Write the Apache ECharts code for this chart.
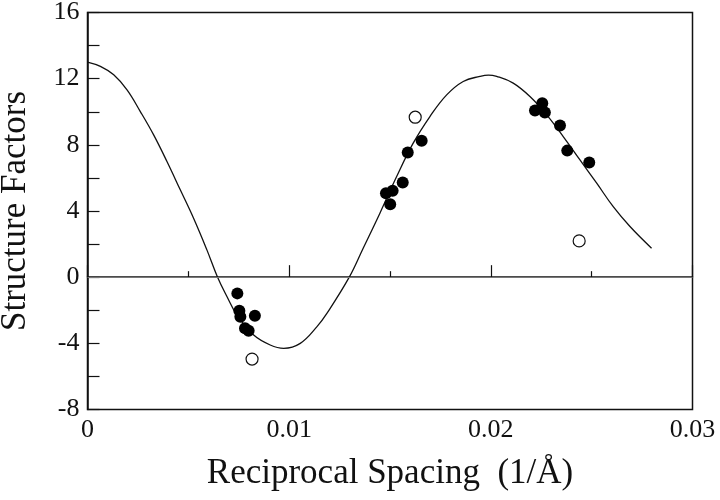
<!DOCTYPE html>
<html>
<head>
<meta charset="utf-8">
<title>Structure Factors</title>
<script src="https://cdn.jsdelivr.net/npm/echarts@6/dist/echarts.min.js"></script>
<style>
  html, body { margin: 0; padding: 0; background: #fff; }
  #main { width: 720px; height: 500px; }
</style>
</head>
<body>
<div id="main"></div>
<script>
// fitted curve
const curveX = [0, 0.00064, 0.0013, 0.00196, 0.00262, 0.00328, 0.00394, 0.0046, 0.00526, 0.00592,
  0.00645, 0.00692, 0.00741, 0.00824, 0.00906, 0.00973, 0.01055, 0.01138, 0.01187, 0.01298,
  0.01367, 0.0145, 0.01533, 0.01615, 0.01698, 0.01781, 0.01863, 0.01946, 0.01988, 0.02029, 0.02111,
  0.02194, 0.02277, 0.02359, 0.02442, 0.02525, 0.02607, 0.0269, 0.02797]
const curveY = [13.0, 12.74, 12.23, 11.32, 10.01, 8.6, 6.99, 5.28, 3.56, 1.65,
  0, -1.18, -2.29, -3.5, -4.1, -4.3, -4.0, -2.99, -2.19, 0,
  1.75, 3.87, 6.08, 8.1, 9.71, 11.02, 11.83, 12.14, 12.22, 12.14, 11.73,
  10.92, 9.81, 8.5, 7.09, 5.68, 4.26, 3.06, 1.75]

// measured structure factors (filled circles)
const filledX = [0.00743, 0.00753, 0.00758, 0.0083, 0.00781, 0.00799,
  0.0148, 0.01501, 0.01513, 0.01563, 0.01588, 0.01657,
  0.02219, 0.02255, 0.02268, 0.02343, 0.02379, 0.02488]
const filledY = [-0.98, -2.03, -2.39, -2.33, -3.09, -3.24,
  5.07, 4.41, 5.23, 5.72, 7.53, 8.24,
  10.07, 10.52, 9.95, 9.17, 7.65, 6.93]

// open circles
const openX = [0.00816, 0.01625, 0.02438]
const openY = [-4.95, 9.67, 2.19]

const xTicks = [0, 0.01, 0.02, 0.03]
const yTicks = [-8, -4, 0, 4, 8, 12, 16]

const zip = (xs, ys) => xs.map((x, i) => [x, ys[i]])

const serif = '"Liberation Serif", "DejaVu Serif", serif'

const option = {
  animation: false,
  backgroundColor: '#fff',
  grid: {
    left: 87.5,
    right: 27.5,
    top: 12.5,
    bottom: 90.5,
    outerBoundsMode: 'none',
    show: true,
    borderColor: '#111',
    borderWidth: 1.5,
  },
  xAxis: {
    type: 'value',
    min: xTicks[0],
    max: xTicks[xTicks.length - 1],
    interval: 0.01,
    name: 'Reciprocal Spacing  (1/Å)',
    nameLocation: 'middle',
    nameGap: 47,
    nameTextStyle: { fontFamily: serif, fontSize: 35, color: '#111' },
    axisLine: { show: true, lineStyle: { color: '#111', width: 1.5 } },
    axisTick: { show: true, inside: true, length: 12, lineStyle: { color: '#111', width: 1.2 } },
    minorTick: { show: true, splitNumber: 2, length: 6, lineStyle: { color: '#111', width: 1.2 } },
    splitLine: { show: false },
    axisLabel: {
      fontFamily: serif,
      fontSize: 26,
      color: '#111',
      margin: 8,
      formatter: (v) => (v === 0 ? '0' : v.toFixed(2)),
    },
  },
  yAxis: {
    type: 'value',
    min: yTicks[0],
    max: yTicks[yTicks.length - 1],
    interval: 4,
    name: 'Structure Factors',
    nameLocation: 'middle',
    nameGap: 54,
    nameTextStyle: { fontFamily: serif, fontSize: 35, color: '#111' },
    axisLine: { show: true, lineStyle: { color: '#111', width: 1.5 } },
    axisTick: { show: true, inside: true, length: 12, lineStyle: { color: '#111', width: 1.2 } },
    minorTick: { show: true, splitNumber: 2, length: 12, lineStyle: { color: '#111', width: 1.2 } },
    splitLine: { show: false },
    axisLabel: { fontFamily: serif, fontSize: 26, color: '#111', margin: 8 },
  },
  series: [
    {
      name: 'fit',
      type: 'line',
      data: zip(curveX, curveY),
      smooth: 0.4,
      showSymbol: false,
      lineStyle: { color: '#111', width: 1.3 },
      markLine: {
        silent: true,
        symbol: 'none',
        label: { show: false },
        lineStyle: { color: '#777', width: 1, type: 'solid' },
        data: [{ yAxis: 0 }],
      },
      z: 2,
    },
    {
      name: 'filled',
      type: 'scatter',
      data: zip(filledX, filledY),
      symbolSize: 12,
      itemStyle: { color: '#000', opacity: 1 },
      z: 3,
    },
    {
      name: 'open',
      type: 'scatter',
      data: zip(openX, openY),
      symbolSize: 12,
      itemStyle: { color: '#fff', borderColor: '#111', borderWidth: 1.2, opacity: 1 },
      z: 3,
    },
  ],
}

const chart = echarts.init(document.getElementById('main'))
chart.setOption(option)
window.addEventListener('resize', () => {
  chart.resize()
})
</script>
</body>
</html>
